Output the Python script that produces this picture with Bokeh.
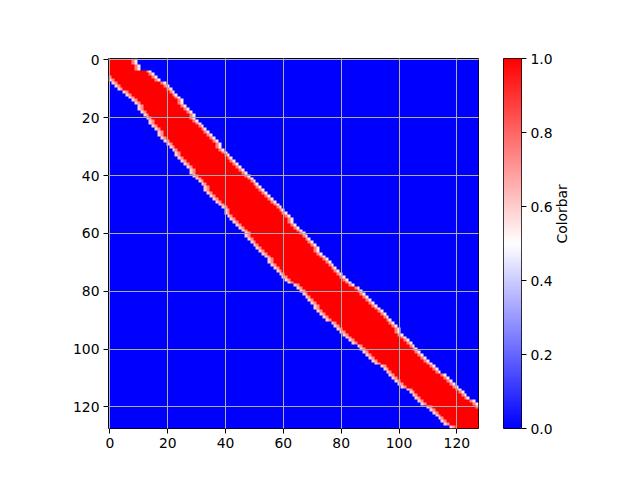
import math
import numpy as np
from bokeh.plotting import figure
from bokeh.layouts import row
from bokeh.models import LinearColorMapper, FixedTicker, Range1d, PrintfTickFormatter
from bokeh.embed import file_html
from bokeh.resources import INLINE

# ---------------- data ----------------
n_rows = 128
n_cols = 128
# first fully red column of each row (lower-left edge of the band)
left_edge = [
    0, 0, 0, 0, 0, 0, 1, 2, 3, 4,
    5, 7, 8, 9, 10, 11, 12, 12, 13, 14,
    15, 16, 16, 17, 18, 19, 19, 20, 21, 22,
    23, 24, 25, 25, 26, 27, 28, 29, 30, 30,
    31, 32, 33, 34, 35, 35, 36, 37, 38, 39,
    40, 41, 42, 42, 43, 44, 45, 46, 47, 48,
    49, 49, 50, 51, 52, 53, 54, 55, 56, 57,
    57, 58, 59, 60, 61, 62, 63, 64, 66, 67,
    68, 69, 70, 71, 72, 73, 73, 74, 75, 76,
    77, 79, 80, 81, 82, 83, 84, 85, 86, 88,
    89, 90, 91, 92, 93, 94, 96, 97, 98, 99,
    100, 101, 102, 103, 105, 106, 107, 108, 109, 110,
    112, 113, 114, 115, 116, 117, 118, 120,
]
# last fully red column of each row (upper-right edge of the band)
right_edge = [
    7, 7, 8, 8, 12, 13, 14, 15, 17, 18,
    19, 20, 21, 22, 23, 23, 24, 25, 26, 27,
    27, 28, 29, 30, 31, 32, 33, 34, 35, 36,
    36, 37, 38, 39, 40, 41, 42, 43, 44, 45,
    46, 47, 48, 49, 50, 51, 52, 53, 54, 55,
    56, 57, 58, 59, 60, 61, 61, 62, 63, 64,
    65, 66, 67, 68, 69, 70, 70, 71, 72, 73,
    74, 75, 76, 77, 78, 79, 80, 81, 82, 84,
    85, 86, 87, 88, 89, 90, 91, 92, 93, 94,
    95, 96, 97, 98, 98, 99, 100, 101, 102, 103,
    104, 105, 106, 107, 108, 109, 110, 111, 112, 114,
    115, 116, 117, 118, 119, 120, 121, 122, 124, 125,
    126, 127, 127, 127, 127, 127, 127, 127,
]
band_value = 1.0
left_fringe = [0.72, 0.6]    # cells just left of the band (inner, outer)
right_fringe = [0.75, 0.55]  # cells just right of the band (inner, outer)

x_ticks = [0, 20, 40, 60, 80, 100, 120]
y_ticks = [0, 20, 40, 60, 80, 100, 120]
cbar_ticks = [0.0, 0.2, 0.4, 0.6, 0.8, 1.0]
cbar_label = "Colorbar"

# ---------------- build matrix ----------------
M = np.zeros((n_rows, n_cols))
for r in range(n_rows):
    L, R = left_edge[r], right_edge[r]
    M[r, L:R + 1] = band_value
    for k, v in enumerate(left_fringe):
        c = L - 1 - k
        if c >= 0:
            M[r, c] = v
    for k, v in enumerate(right_fringe):
        c = R + 1 + k
        if c < n_cols:
            M[r, c] = v

# matplotlib "bwr" colormap
palette = []
for i in range(256):
    t = i / 255
    if t < 0.5:
        a = int(round(255 * 2 * t))
        palette.append("#%02x%02x%02x" % (a, a, 255))
    else:
        a = int(round(255 * 2 * (1 - t)))
        palette.append("#%02x%02x%02x" % (255, a, a))
mapper = LinearColorMapper(palette=palette, low=0.0, high=1.0)

FONT = "DejaVu Sans"
FSIZE = "13.9px"

# ---------------- main heatmap ----------------
p = figure(frame_width=370, frame_height=370,
           x_range=Range1d(-0.5, n_cols - 0.5), y_range=Range1d(n_rows - 0.5, -0.5),
           min_border_left=108, min_border_right=10, min_border_top=58, min_border_bottom=52,
           output_backend="svg", toolbar_location=None)
p.image(image=[M], x=-0.5, y=-0.5, dw=n_cols, dh=n_rows, color_mapper=mapper)
p.xaxis.ticker = FixedTicker(ticks=x_ticks)
p.yaxis.ticker = FixedTicker(ticks=y_ticks)
for ax in (p.xaxis, p.yaxis):
    ax.major_label_text_font = FONT
    ax.major_label_text_font_size = FSIZE
    ax.major_label_text_color = "black"
    ax.major_tick_in = 0
    ax.major_tick_out = 5
    ax.minor_tick_in = 0
    ax.minor_tick_out = 0
    ax.major_tick_line_color = "black"
    ax.major_tick_line_width = 1
    ax.axis_line_color = None
    ax.major_label_standoff = 4
p.grid.grid_line_color = "#b0b0b0"
p.grid.grid_line_width = 1
p.grid.level = "overlay"
p.outline_line_color = "black"
p.outline_line_width = 1
p.outline_line_alpha = 1
p.background_fill_color = "white"
p.border_fill_color = "white"

# ---------------- colorbar ----------------
grad = np.linspace(0.0, 1.0, 256).reshape(256, 1)
p2 = figure(frame_width=18, frame_height=370,
            x_range=Range1d(0, 1), y_range=Range1d(0, 1),
            y_axis_location="right", x_axis_location=None,
            min_border_left=15, min_border_right=100, min_border_top=58, min_border_bottom=52,
            output_backend="svg", toolbar_location=None)
p2.image(image=[grad], x=0, y=0, dw=1, dh=1, color_mapper=mapper)
p2.grid.visible = False
ya = p2.yaxis
ya.ticker = FixedTicker(ticks=cbar_ticks)
ya.formatter = PrintfTickFormatter(format="%.1f")
ya.major_label_text_font = FONT
ya.major_label_text_font_size = FSIZE
ya.major_label_text_color = "black"
ya.major_tick_in = 0
ya.major_tick_out = 5
ya.minor_tick_in = 0
ya.minor_tick_out = 0
ya.major_tick_line_color = "black"
ya.axis_line_color = None
ya.major_label_standoff = 4
ya.axis_label = cbar_label
ya.axis_label_text_font = FONT
ya.axis_label_text_font_size = FSIZE
ya.axis_label_text_font_style = "normal"
ya.axis_label_text_color = "black"
ya.axis_label_standoff = 6
try:
    ya.axis_label_orientation = math.pi / 2
except Exception:
    pass
p2.outline_line_color = "black"
p2.outline_line_width = 1
p2.outline_line_alpha = 1
p2.border_fill_color = "white"

layout = row(p, p2)
open("out.html", "w").write(file_html(layout, INLINE))
